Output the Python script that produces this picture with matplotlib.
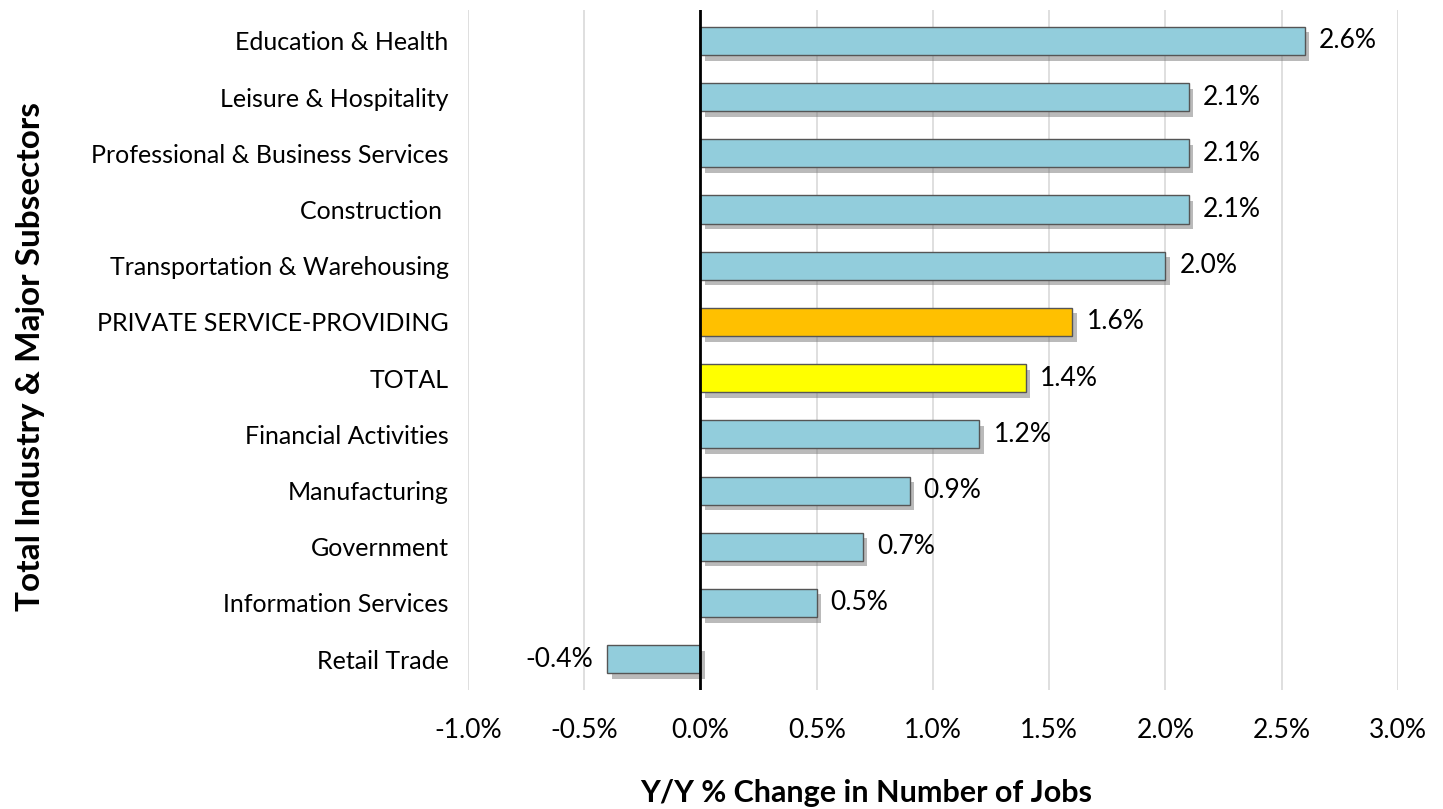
import matplotlib
matplotlib.use("Agg")
import matplotlib.pyplot as plt
import matplotlib.patheffects as pe
import numpy as np

categories = [
    "Education & Health",
    "Leisure & Hospitality",
    "Professional & Business Services",
    "Construction ",
    "Transportation & Warehousing",
    "PRIVATE SERVICE-PROVIDING",
    "TOTAL",
    "Financial Activities",
    "Manufacturing",
    "Government",
    "Information Services",
    "Retail Trade",
]
values = [2.6, 2.1, 2.1, 2.1, 2.0, 1.6, 1.4, 1.2, 0.9, 0.7, 0.5, -0.4]
xticks = [-1.0, -0.5, 0.0, 0.5, 1.0, 1.5, 2.0, 2.5, 3.0]

BLUE = "#92CDDC"
highlight = {"PRIVATE SERVICE-PROVIDING": "#FFC000", "TOTAL": "#FFFF00"}
colors = [highlight.get(c, BLUE) for c in categories]

plt.rcParams["font.family"] = ["Lato", "DejaVu Sans"]

fig = plt.figure(figsize=(14.43, 8.09), dpi=100)
ax = fig.add_axes([0.3243, 0.147, 0.6445, 0.8406])

y = np.arange(len(categories))[::-1]
bars = ax.barh(y, values, height=0.5, color=colors, edgecolor="#555555",
               linewidth=1.0, zorder=3)
for b in bars:
    b.set_path_effects([pe.SimplePatchShadow(offset=(3, -4), shadow_rgbFace="#777777",
                                             alpha=0.5), pe.Normal()])

for yi, v in zip(y, values):
    if v >= 0:
        ax.text(v + 0.06, yi, f"{v:.1f}%", va="center", ha="left", fontsize=19)
    else:
        ax.text(v - 0.06, yi, f"{v:.1f}%", va="center", ha="right", fontsize=19)

ax.set_xlim(-1.0, 3.0)
ax.set_ylim(-0.55, len(categories) - 0.45)
ax.set_xticks(xticks)
ax.set_xticklabels([f"{t:.1f}%" for t in xticks], fontsize=19)
ax.set_yticks(y)
ax.set_yticklabels(categories, fontsize=18)
ax.tick_params(axis="y", length=0, pad=14)
ax.tick_params(axis="x", length=0, pad=20)

ax.grid(axis="x", color="#d9d9d9", linewidth=1.2, zorder=0)
for s in ax.spines.values():
    s.set_visible(False)
ax.axvline(0, color="black", linewidth=2, zorder=4)

fig.text(0.600, 0.020, "Y/Y % Change in Number of Jobs", fontsize=22,
         fontweight="bold", ha="center", va="center")
fig.text(0.021, 0.559, "Total Industry & Major Subsectors", rotation=90,
         fontsize=24, fontweight="bold", va="center", ha="center")

fig.savefig("out.png", dpi=100)
